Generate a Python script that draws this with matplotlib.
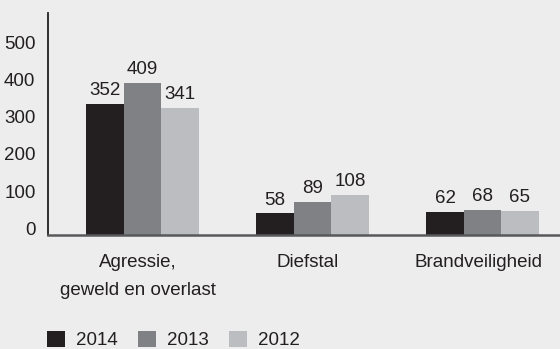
import matplotlib.pyplot as plt
import numpy as np
from matplotlib.patches import Patch

plt.rcParams['font.family'] = ['Liberation Sans', 'DejaVu Sans']

CATEGORIES = ["Agressie,\ngeweld en overlast", "Diefstal", "Brandveiligheid"]
YEARS = ["2014", "2013", "2012"]
VALUES_2014 = [352, 58, 62]
VALUES_2013 = [409, 89, 68]
VALUES_2012 = [341, 108, 65]
YTICKS = [0, 100, 200, 300, 400, 500]

COLORS = ['#231f20', '#808184', '#bcbdc0']
BG = '#ededed'
WIDTH = 0.22
FS = 13.5

fig = plt.figure(figsize=(5.6, 3.49), dpi=100, facecolor=BG)
ax = fig.add_axes([48 / 560, 1 - 235 / 349, 1 - 48 / 560, (235 - 12.5) / 349])
ax.set_facecolor(BG)

x = np.arange(len(CATEGORIES))
series = [VALUES_2014, VALUES_2013, VALUES_2012]
for i, vals in enumerate(series):
    pos = x + (i - 1) * WIDTH
    ax.bar(pos, vals, width=WIDTH, color=COLORS[i], zorder=2)
    for px, v in zip(pos, vals):
        ax.annotate(f"{v}", (px, v), xytext=(0, 3.5), textcoords='offset points',
                    ha='center', va='bottom', fontsize=FS, color='#231f20')

ax.set_xlim(-0.556, 2.456)
ax.set_ylim(0, 597)

# numbers sit on their gridline (baseline aligned)
ax.set_yticks(YTICKS)
ax.set_yticklabels([str(t) for t in YTICKS], fontsize=FS, color='#231f20')
plt.setp(ax.get_yticklabels(), va='baseline')
ax.tick_params(axis='y', length=0, pad=9)

# category names are set a little left of the group centre
ax.set_xticks(x - 0.026)
ax.set_xticklabels(CATEGORIES, fontsize=FS, color='#231f20', linespacing=1.85)
ax.tick_params(axis='x', length=0, pad=14)

for s in ['top', 'right']:
    ax.spines[s].set_visible(False)
ax.spines['left'].set_color('#231f20')
ax.spines['left'].set_linewidth(1.3)
ax.spines['bottom'].set_color('#58595b')
ax.spines['bottom'].set_linewidth(1.8)
ax.spines['bottom'].set_zorder(3)

handles = [Patch(facecolor=c, edgecolor='none') for c in COLORS]
fig.legend(handles, YEARS, loc='center left', bbox_to_anchor=(47 / 560, 1 - 340 / 349),
           ncol=3, frameon=False, fontsize=FS, borderpad=0, borderaxespad=0,
           handlelength=0.95, handleheight=0.95, handletextpad=0.58, columnspacing=1.1,
           labelcolor='#231f20')

fig.savefig("out.png", dpi=100, facecolor=BG)
